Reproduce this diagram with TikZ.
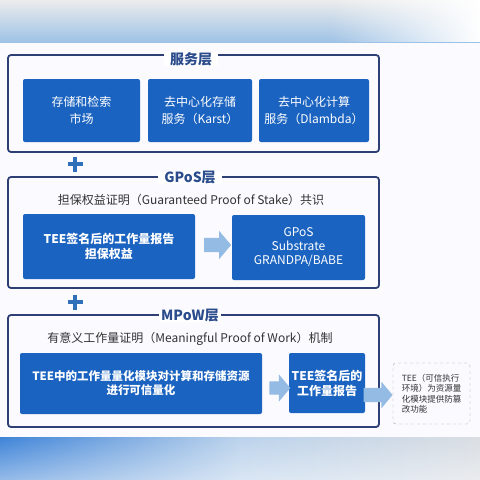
\documentclass[tikz,border=0pt]{standalone}
\usepackage{fontspec}
\setmainfont{Noto Sans CJK SC}
\usetikzlibrary{shapes.arrows,fadings,calc}
\definecolor{navy}{HTML}{2D3F75}
\definecolor{titleblue}{HTML}{2B4C8C}
\definecolor{boxblue}{HTML}{1B63C0}
\definecolor{arrowblue}{HTML}{93BBE3}
\definecolor{plusblue}{HTML}{3070B8}
\definecolor{graytext}{HTML}{333333}
\definecolor{bandblue}{HTML}{3F84D8}
\definecolor{bandlight}{HTML}{BCD3EC}
\definecolor{bandgray}{HTML}{DADEE3}
\tikzset{
  layer/.style={draw=navy, line width=1.8pt, rounded corners=3pt},
  ltitle/.style={fill=white, inner xsep=6pt, inner ysep=0pt, text=titleblue, font=\fontsize{14}{16}\selectfont\bfseries},
  subt/.style={text=graytext, font=\fontsize{12}{14}\selectfont},
  bluebox/.style={fill=boxblue, rounded corners=2pt, text=white, align=center, inner sep=0pt},
  bigarrow/.style={single arrow, fill=arrowblue, draw=none, minimum height=27pt, inner xsep=0pt, inner ysep=7pt, text height=0pt, text depth=0pt, text width=0pt, single arrow head extend=7pt, single arrow tip angle=100},
  plussign/.style={draw=plusblue, line width=4.5pt},
}
\begin{document}
\begin{tikzpicture}[x=1pt,y=-1pt]
\useasboundingbox (0,0) rectangle (480,480);
% background
\fill[white] (0,0) rectangle (480,480);
\fill[white!98!blue] (0,42) rectangle (480,437);
\shade[top color=white!85!gray, bottom color=arrowblue!90!white] (0,0) rectangle (480,42);
\fill[white, path fading=west] (330,0) rectangle (480,42);
\shade[left color=bandblue, right color=bandgray, middle color=bandlight] (0,437) rectangle (480,480);
\fill[white, path fading=north, opacity=0.45] (0,437) rectangle (480,480);

% service layer
\node[layer, minimum width=371pt, minimum height=97pt, inner sep=0pt] (svc) at (193.5,103.5) {};
\node[ltitle] (svct) at (191,59) {服务层};
\node[bluebox, minimum width=117pt, minimum height=63pt, font=\fontsize{12}{17}\selectfont] (s1) at (81.5,110.5) {存储和检索\\市场};
\node[bluebox, minimum width=104pt, minimum height=63pt, font=\fontsize{12}{17}\selectfont] (s2) at (200,110.5) {去中心化存储\\服务（Karst）};
\node[bluebox, minimum width=110pt, minimum height=63pt, font=\fontsize{12}{17}\selectfont] (s3) at (314,110.5) {去中心化计算\\服务（Dlambda）};

% plus 1
\coordinate (p1) at (75,164);
\draw[plussign] ($(p1)+(-7.5,0)$) -- ($(p1)+(7.5,0)$) ($(p1)+(0,-7.5)$) -- ($(p1)+(0,7.5)$);

% GPoS layer
\node[layer, minimum width=371pt, minimum height=111pt, inner sep=0pt] (gpos) at (193.5,232.5) {};
\node[ltitle] (gpost) at (190,178) {GPoS层};
\node[subt] (gsub) at (191,200) {担保权益证明（Guaranteed Proof of Stake）共识};
\node[bluebox, minimum width=172pt, minimum height=65pt, font=\fontsize{12}{15}\selectfont\bfseries] (g1) at (109,246.5) {TEE签名后的工作量报告\\担保权益};
\node[bluebox, minimum width=133pt, minimum height=65pt, font=\fontsize{12}{14}\selectfont] (g2) at (298.5,247.5) {GPoS\\Substrate\\GRANDPA/BABE};
\node[bigarrow] (ga) at (214.5,245) {};

% plus 2
\coordinate (p2) at (75,302);
\draw[plussign] ($(p2)+(-7.5,0)$) -- ($(p2)+(7.5,0)$) ($(p2)+(0,-7.5)$) -- ($(p2)+(0,7.5)$);

% MPoW layer
\node[layer, minimum width=371pt, minimum height=112pt, inner sep=0pt] (mpow) at (193.5,371) {};
\node[ltitle, inner xsep=2pt] (mpowt) at (190,316) {MPoW层};
\node[subt] (msub) at (190,339) {有意义工作量证明（Meaningful Proof of Work）机制};
\node[bluebox, minimum width=242pt, minimum height=61pt, font=\fontsize{11.5}{14}\selectfont\bfseries] (m1) at (141,383.5) {TEE中的工作量量化模块对计算和存储资源\\进行可信量化};
\node[bluebox, minimum width=76pt, minimum height=60pt, font=\fontsize{12}{15}\selectfont\bfseries] (m2) at (327,383) {TEE签名后的\\工作量报告};
\node[bigarrow, minimum height=21pt, inner ysep=6.5pt, single arrow head extend=7pt] (ma) at (277,388) {};
\node[draw=gray!70, dashed, rounded corners=3pt, minimum width=77pt, minimum height=61pt, align=left, inner sep=0pt, text=graytext, font=\fontsize{8.5}{10.5}\selectfont] (note) at (431.5,393.5) {TEE（可信执行\\环境）为资源量\\化模块提供防篡\\改功能};
\node[bigarrow, minimum height=29pt, inner ysep=7pt, single arrow head extend=6pt, anchor=east] (na) at (note.west |- 0,395) {};
\end{tikzpicture}
\end{document}
